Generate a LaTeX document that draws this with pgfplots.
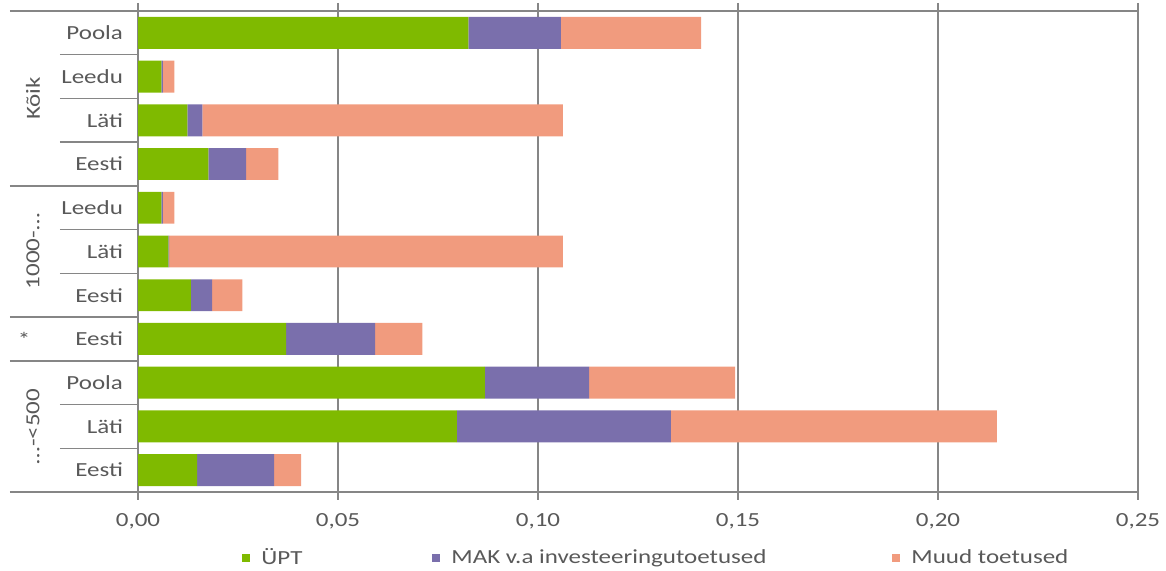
\documentclass[border=0pt]{standalone}
\usepackage{fontspec}
\setmainfont{Carlito}[FakeStretch=1.25]
\usepackage{pgfplots}
\pgfplotsset{compat=1.18}
\definecolor{cgreen}{RGB}{127,186,0}
\definecolor{cpurple}{RGB}{122,111,172}
\definecolor{csalmon}{RGB}{241,155,126}
\definecolor{cgrid}{RGB}{134,134,134}
\definecolor{ctext}{RGB}{89,89,89}
\begin{document}
\begin{tikzpicture}
\useasboundingbox (-69pt,-39.5pt) rectangle (514pt,246pt);
\begin{axis}[
  at={(0pt,0pt)}, anchor=south west,
  scale only axis, width=500pt, height=240.5pt,
  xmin=0, xmax=0.25, ymin=-0.5, ymax=10.5,
  xbar stacked, bar width=0.73,
  clip=false,
  xtick={0,0.05,0.1,0.15,0.2,0.25},
  xticklabel style={yshift=-3pt, /pgf/number format/.cd, fixed, fixed zerofill, precision=2, use comma, assume math mode=true},
  ytick={0,1,2,3,4,5,6,7,8,9,10},
  yticklabels={Eesti,Läti,Poola,Eesti,Eesti,Läti,Leedu,Eesti,Läti,Leedu,Poola},
  ytick style={draw=none},
  xtick style={draw=cgrid, line width=0.75pt},
  tick align=outside, major tick length=4pt,
  xmajorgrids, grid style={cgrid, line width=0.75pt},
  axis line style={cgrid, line width=1pt},
  ticklabel style={font=\fontsize{10}{12}\selectfont, text=ctext},
  legend columns=3,
  legend style={draw=none, fill=none, anchor=west, at={(0.098,-0.138)}, font=\fontsize{10}{12}\selectfont, text=ctext,
    /tikz/column 2/.style={column sep=63pt},
    /tikz/column 4/.style={column sep=61pt},
    /tikz/column 1/.style={column sep=3.5pt},
    /tikz/column 3/.style={column sep=3.5pt},
    /tikz/column 5/.style={column sep=3.5pt}},
  legend image code/.code={\fill[#1] (0pt,-2pt) rectangle (4pt,2pt);},
]
\addplot[fill=cgreen, draw=none] coordinates {
(0.0148,0) (0.0797,1) (0.0867,2) (0.0370,3) (0.0132,4) (0.0076,5) (0.00585,6) (0.0176,7) (0.01235,8) (0.00585,9) (0.0826,10)};
\addplot[fill=cpurple, draw=none] coordinates {
(0.0192,0) (0.0535,1) (0.0261,2) (0.0223,3) (0.0053,4) (0.0002,5) (0.00035,6) (0.0094,7) (0.00375,8) (0.00035,9) (0.0231,10)};
\addplot[fill=csalmon, draw=none] coordinates {
(0.0068,0) (0.0815,1) (0.0365,2) (0.0118,3) (0.0076,4) (0.0984,5) (0.0029,6) (0.0081,7) (0.0901,8) (0.0029,9) (0.0351,10)};
\legend{ÜPT, MAK v.a investeeringutoetused, Muud toetused}
% separators
\pgfplotsinvokeforeach{0.5,1.5,4.5,5.5,7.5,8.5,9.5}{
  \draw[cgrid, line width=0.75pt] ([xshift=-39pt]axis cs:0,#1) -- (axis cs:0,#1);
}
\pgfplotsinvokeforeach{-0.5,2.5,3.5,6.5,10.5}{
  \draw[cgrid, line width=0.75pt] ([xshift=-64pt]axis cs:0,#1) -- (axis cs:0,#1);
}
\node[rotate=90, text=ctext, font=\fontsize{10}{12}\selectfont] at ([xshift=-52.5pt]axis cs:0,1) {…-<500};
\node[text=ctext, font=\fontsize{10}{12}\selectfont] at ([xshift=-57pt]axis cs:0,3) {*};
\node[rotate=90, text=ctext, font=\fontsize{10}{12}\selectfont] at ([xshift=-52.5pt]axis cs:0,5) {1000-…};
\node[rotate=90, text=ctext, font=\fontsize{10}{12}\selectfont] at ([xshift=-52.5pt]axis cs:0,8.5) {Kõik};
\end{axis}
\end{tikzpicture}
\end{document}
